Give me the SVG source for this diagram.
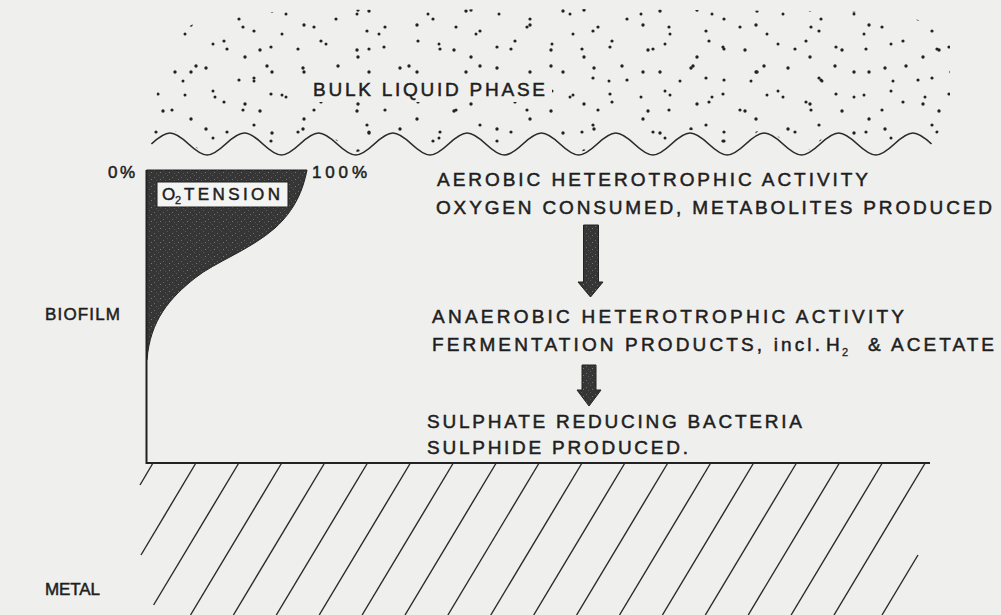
<svg xmlns="http://www.w3.org/2000/svg" width="1001" height="615" viewBox="0 0 1001 615">
<style>
text{font-family:"Liberation Sans",Arial,sans-serif;fill:#1e1e1e;stroke:#1e1e1e;stroke-width:0.5;font-size:19px}
.sm{font-size:17px}
.sub{font-size:11px;stroke-width:0.3}
.ln{stroke:#2a2a2a;stroke-width:1.7;fill:none}
.ax{stroke:#222;stroke-width:2;fill:none}
.h{stroke:#2a2a2a;stroke-width:1.4}
.d{fill:#222}
.dark{fill:url(#speck);stroke:#222;stroke-width:1}
</style>
<defs>
<pattern id="speck" width="9" height="7" patternUnits="userSpaceOnUse">
<rect width="9" height="7" fill="#363636"/>
<rect x="1" y="2" width="1" height="1" fill="#6a6a6a"/>
<rect x="5" y="0" width="1" height="1" fill="#5a5a5a"/>
<rect x="7" y="4" width="1" height="1" fill="#777"/>
<rect x="3" y="5" width="1" height="1" fill="#555"/>
</pattern>
<pattern id="pa" width="97" height="61" patternUnits="userSpaceOnUse">
<circle class="d" cx="12" cy="7" r="1.7"/><circle class="d" cx="45" cy="19" r="1.6"/><circle class="d" cx="78" cy="11" r="1.7"/><circle class="d" cx="30" cy="41" r="1.6"/><circle class="d" cx="66" cy="50" r="1.7"/><circle class="d" cx="88" cy="34" r="1.5"/>
</pattern>
<pattern id="pb" width="113" height="47" patternUnits="userSpaceOnUse" x="40" y="17">
<circle class="d" cx="5" cy="30" r="1.6"/><circle class="d" cx="38" cy="8" r="1.7"/><circle class="d" cx="60" cy="27" r="1.5"/><circle class="d" cx="92" cy="40" r="1.7"/><circle class="d" cx="101" cy="14" r="1.6"/>
</pattern>
<pattern id="pc" width="71" height="83" patternUnits="userSpaceOnUse" x="21" y="5">
<circle class="d" cx="9" cy="22" r="1.6"/><circle class="d" cx="33" cy="61" r="1.7"/><circle class="d" cx="52" cy="9" r="1.5"/><circle class="d" cx="64" cy="44" r="1.6"/><circle class="d" cx="20" cy="76" r="1.5"/>
</pattern>
<mask id="cloud" maskUnits="userSpaceOnUse" x="0" y="0" width="1001" height="200">
<path fill="#fff" d="M151.4,141 c15.77,-14.67 21.38,-14.67 37.15,0 s21.38,14.67 37.15,0 s21.38,-14.67 37.15,0 s21.38,14.67 37.15,0 s21.38,-14.67 37.15,0 s21.38,14.67 37.15,0 s21.38,-14.67 37.15,0 s21.38,14.67 37.15,0 s21.38,-14.67 37.15,0 s21.38,14.67 37.15,0 s21.38,-14.67 37.15,0 s21.38,14.67 37.15,0 s21.38,-14.67 37.15,0 s21.38,14.67 37.15,0 s21.38,-14.67 37.15,0 s21.38,14.67 37.15,0 s21.38,-14.67 37.15,0 s21.38,14.67 37.15,0 s21.38,-14.67 37.15,0 s21.38,14.67 37.15,0 s21.38,-14.67 37.15,0 L950,118 L950,45 L928,22 L880,12 L600,9 L300,10 L205,17 L178,33 L160,65 Z"/>
<rect x="306" y="76" width="246" height="26" fill="#000"/>
</mask>
</defs>
<rect width="1001" height="615" fill="#efefed"/>

<g id="bulk-liquid">
<g mask="url(#cloud)">
<rect x="140" y="0" width="820" height="170" fill="url(#pa)"/>
<rect x="140" y="0" width="820" height="170" fill="url(#pb)"/>
<rect x="140" y="0" width="820" height="170" fill="url(#pc)"/>
</g>
<path class="ln" d="M151.4,144 c15.77,-14.67 21.38,-14.67 37.15,0 s21.38,14.67 37.15,0 s21.38,-14.67 37.15,0 s21.38,14.67 37.15,0 s21.38,-14.67 37.15,0 s21.38,14.67 37.15,0 s21.38,-14.67 37.15,0 s21.38,14.67 37.15,0 s21.38,-14.67 37.15,0 s21.38,14.67 37.15,0 s21.38,-14.67 37.15,0 s21.38,14.67 37.15,0 s21.38,-14.67 37.15,0 s21.38,14.67 37.15,0 s21.38,-14.67 37.15,0 s21.38,14.67 37.15,0 s21.38,-14.67 37.15,0 s21.38,14.67 37.15,0 s21.38,-14.67 37.15,0 s21.38,14.67 37.15,0 s21.38,-14.67 37.15,0"/>
<text x="313" y="96" textLength="232" lengthAdjust="spacing">BULK LIQUID PHASE</text>
</g>

<g id="o2-profile">
<path class="dark" d="M146.5,170 H307 C303,190 295,210 275,228 C250,250 215,262 195,278 C170,298 150,320 147,360 L146.5,360 Z"/>
<rect x="157" y="182" width="131" height="25" fill="#f4f4f2" stroke="#222" stroke-width="1"/>
<text class="sm" x="162" y="200">O</text>
<text class="sub" x="175" y="204">2</text>
<text class="sm" x="184" y="200" textLength="96" lengthAdjust="spacing">TENSION</text>
<text class="sm" x="108" y="178" textLength="27" lengthAdjust="spacing">0%</text>
<text class="sm" x="312" y="178" textLength="55" lengthAdjust="spacing">100%</text>
<path class="ax" d="M146.5,170 V463 H930"/>
</g>

<g id="labels">
<text class="sm" x="45" y="320" textLength="75" lengthAdjust="spacing">BIOFILM</text>
<text class="sm" x="45" y="595" textLength="55" lengthAdjust="spacing">METAL</text>
</g>

<g id="aerobic">
<text x="437" y="186" textLength="431" lengthAdjust="spacing">AEROBIC HETEROTROPHIC ACTIVITY</text>
<text x="436" y="214" textLength="556" lengthAdjust="spacing">OXYGEN CONSUMED, METABOLITES PRODUCED</text>
</g>
<g id="anaerobic">
<text x="432" y="322.5" textLength="472" lengthAdjust="spacing">ANAEROBIC HETEROTROPHIC ACTIVITY</text>
<text x="432" y="351" textLength="388" lengthAdjust="spacing">FERMENTATION PRODUCTS, incl.</text>
<text x="826" y="351">H</text>
<text class="sub" x="842" y="356">2</text>
<text x="868" y="351" textLength="126" lengthAdjust="spacing">&amp; ACETATE</text>
</g>
<g id="srb">
<text x="427" y="427.5" textLength="375" lengthAdjust="spacing">SULPHATE REDUCING BACTERIA</text>
<text x="427" y="454" textLength="261" lengthAdjust="spacing">SULPHIDE PRODUCED.</text>
</g>

<g id="connectors">
<polygon class="dark" points="583.5,225 598.5,225 598.5,282 603,282 590.5,297 578,282 583.5,282"/>
<polygon class="dark" points="582,365 596,365 596,390 601,390 589,406 577,390 582,390"/>
</g>

<g id="metal">
<line class="h" x1="153" y1="463" x2="140" y2="485"/>
<line class="h" x1="195.9" y1="463" x2="141" y2="555"/>
<line class="h" x1="238.8" y1="463" x2="153.6" y2="605"/>
<line class="h" x1="281.7" y1="463" x2="190.5" y2="615"/>
<line class="h" x1="324.6" y1="463" x2="233.4" y2="615"/>
<line class="h" x1="367.5" y1="463" x2="276.3" y2="615"/>
<line class="h" x1="410.4" y1="463" x2="319.2" y2="615"/>
<line class="h" x1="453.3" y1="463" x2="362.1" y2="615"/>
<line class="h" x1="496.2" y1="463" x2="405" y2="615"/>
<line class="h" x1="539.1" y1="463" x2="447.9" y2="615"/>
<line class="h" x1="582" y1="463" x2="490.8" y2="615"/>
<line class="h" x1="624.9" y1="463" x2="533.7" y2="615"/>
<line class="h" x1="667.8" y1="463" x2="576.6" y2="615"/>
<line class="h" x1="710.7" y1="463" x2="619.5" y2="615"/>
<line class="h" x1="753.6" y1="463" x2="662.4" y2="615"/>
<line class="h" x1="796.5" y1="463" x2="705.3" y2="615"/>
<line class="h" x1="839.4" y1="463" x2="748.2" y2="615"/>
<line class="h" x1="882.3" y1="463" x2="791.1" y2="615"/>
<line class="h" x1="925.2" y1="463" x2="834" y2="615"/>
<line class="h" x1="918" y1="555" x2="882" y2="615"/>
</g>
</svg>
